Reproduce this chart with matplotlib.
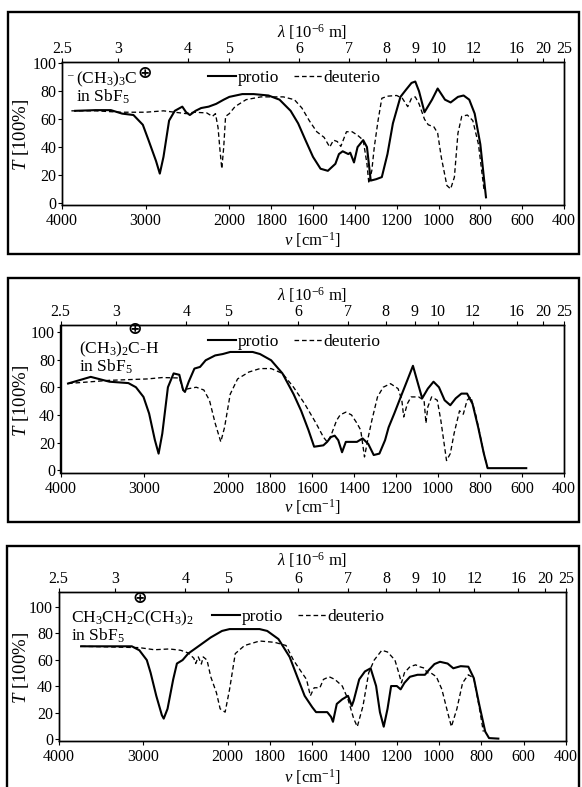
import numpy as np
import matplotlib
matplotlib.use("Agg")
import matplotlib.pyplot as plt
from matplotlib.patches import Rectangle

plt.rcParams['font.family'] = ['Liberation Serif', 'DejaVu Serif']
plt.rcParams['mathtext.fontset'] = 'custom'
plt.rcParams['mathtext.rm'] = 'Liberation Serif'
plt.rcParams['mathtext.it'] = 'Liberation Serif:italic'
plt.rcParams['mathtext.bf'] = 'Liberation Serif:bold'

# ---------------- data ----------------
bottom_ticks = [4000, 3000, 2000, 1800, 1600, 1400, 1200, 1000, 800, 600, 400]
top_ticks_um = [2.5, 3, 4, 5, 6, 7, 8, 9, 10, 12, 16, 20, 25]
top_tick_labels = ['2.5', '3', '4', '5', '6', '7', '8', '9', '10', '12', '16', '20', '25']
y_ticks = [0, 20, 40, 60, 80, 100]

p1_protio_nu = [3843, 3600, 3416, 3281, 3146, 3034, 2966, 2876, 2831, 2787, 2720, 2652, 2562, 2517, 2472, 2404,
                2337, 2247, 2157, 2067, 2000, 1938, 1884, 1813, 1760, 1707, 1671, 1636, 1600, 1564, 1529, 1493,
                1476, 1458, 1431, 1422, 1404, 1387, 1360, 1342, 1324, 1298, 1271, 1244, 1218, 1182, 1156, 1129,
                1111, 1093, 1067, 1031, 1004, 969, 942, 907, 880, 853, 827, 800, 773]
p1_protio_T = [66, 66.5, 66.5, 64, 63, 56, 45, 30, 21, 33, 59, 66, 69, 65, 63, 66,
               68, 69, 71, 74, 76, 78, 78, 77, 74, 66, 57, 45, 33, 24.5, 23, 28,
               35, 37, 35, 36, 29, 40, 45, 40, 16, 17, 18.5, 35, 57, 76, 81, 86,
               87, 80, 65, 74, 82, 74, 72, 76, 77, 74, 64, 42, 4]
p1_deut_nu = [3888, 3600, 3300, 3000, 2787, 2517, 2427, 2270, 2202, 2166, 2135, 2112, 2090, 2067, 2045, 2000,
              1973, 1920, 1849, 1742, 1689, 1653, 1618, 1582, 1547, 1520, 1502, 1484, 1467, 1440, 1413, 1387,
              1360, 1342, 1333, 1319, 1307, 1289, 1271, 1244, 1200, 1173, 1147, 1129, 1111, 1093, 1067, 1049,
              1022, 1004, 987, 960, 942, 924, 907, 889, 862, 836, 809, 782]
p1_deut_T = [66, 66, 65, 65, 66, 64, 65, 64.5, 62, 64, 54, 38, 24.5, 40, 62, 64,
             69, 74, 76, 76, 74, 68, 59, 51, 47, 40, 45, 44, 40.5, 51, 51, 48.5,
             45, 28, 14, 23, 40, 59, 75, 76.5, 77, 75, 69, 75, 76, 71, 60, 56,
             54.5, 50, 33, 12.5, 10, 18.5, 50, 62, 63, 59, 42, 9]

p2_protio_nu = [3910, 3640, 3416, 3191, 3101, 3011, 2944, 2876, 2831, 2787, 2720, 2652, 2584, 2539, 2517, 2472,
                2404, 2337, 2270, 2157, 2067, 1991, 1884, 1849, 1796, 1742, 1689, 1653, 1618, 1591, 1547, 1529,
                1511, 1493, 1476, 1458, 1440, 1413, 1387, 1360, 1333, 1307, 1280, 1253, 1236, 1209, 1173, 1147,
                1120, 1093, 1076, 1049, 1022, 996, 969, 942, 916, 889, 862, 836, 809, 782, 764, 700, 604, 580]
p2_protio_T = [62.7, 67.5, 64, 63, 60, 53, 41, 22, 12, 26.5, 60, 70, 69, 58, 56.6, 64,
               73.5, 74.7, 79.5, 83, 84, 85.5, 85.5, 84, 79.5, 70, 55, 43, 29, 17, 18, 20.5,
               24, 25, 21.7, 13, 20.5, 20.5, 20.5, 23, 19, 11, 12, 21.7, 31, 41, 55, 65,
               75.5, 61, 52, 59, 64, 60, 50.6, 47, 52, 55.4, 55.4, 48, 31, 12, 1.5, 1.5, 1.5, 1.5]
p2_deut_nu = [3910, 3416, 2966, 2787, 2584, 2539, 2472, 2382, 2292, 2225, 2157, 2090, 2045, 1991, 1956, 1902,
              1849, 1796, 1742, 1689, 1636, 1582, 1547, 1529, 1511, 1484, 1467, 1440, 1413, 1387, 1369, 1351,
              1333, 1316, 1289, 1262, 1227, 1191, 1173, 1164, 1147, 1129, 1093, 1067, 1058, 1049, 1031, 1004,
              987, 960, 942, 924, 898, 880, 862, 844, 818, 782, 764]
p2_deut_T = [62.7, 65, 66, 67, 66.7, 58, 59, 60, 58, 50.6, 34, 20.5, 31, 55, 66, 71,
             73.5, 73.5, 70, 60, 48, 34, 24, 20.5, 25, 36, 40, 42, 40, 34, 29, 9.6,
             24, 36, 53, 60, 62.6, 59, 50.6, 38.5, 48, 53, 53, 50.6, 34, 45.8, 53, 50.6,
             36, 7, 12, 26.5, 43, 40.5, 50.6, 53, 38.5, 12, 1.5]

p3_protio_nu = [3733, 3133, 3044, 2956, 2911, 2844, 2778, 2756, 2711, 2644, 2600, 2533, 2467, 2333, 2200, 2067,
                1991, 1849, 1813, 1760, 1707, 1671, 1636, 1600, 1582, 1529, 1511, 1502, 1484, 1458, 1431, 1413,
                1404, 1378, 1351, 1324, 1298, 1280, 1262, 1244, 1227, 1200, 1182, 1164, 1138, 1102, 1067, 1049,
                1022, 996, 960, 933, 898, 862, 836, 809, 782, 764, 720]
p3_protio_T = [70, 70, 67, 59.6, 50, 32.6, 18, 15.4, 22.8, 45, 57, 59.6, 64.5, 70.6, 76.7, 81.6,
               83, 83, 81.6, 75.5, 62, 47, 32.6, 24, 20.3, 20.3, 16.7, 13, 26.5, 30, 32.6, 25,
               29, 45, 51, 53.4, 40, 20.3, 9.3, 22.8, 40, 40, 37.5, 42.4, 47, 48.5, 48.5, 52,
               56.6, 58.3, 57, 53.4, 55, 54.6, 46, 25, 5.6, 0.7, 0.3]
p3_deut_nu = [3733, 3044, 2867, 2689, 2556, 2467, 2400, 2378, 2347, 2311, 2289, 2244, 2200, 2133, 2089, 2030,
              1991, 1964, 1920, 1849, 1778, 1724, 1689, 1653, 1627, 1609, 1591, 1564, 1547, 1520, 1493, 1458,
              1431, 1404, 1387, 1360, 1333, 1307, 1271, 1244, 1209, 1191, 1178, 1164, 1138, 1111, 1093, 1067,
              1058, 1040, 1013, 987, 960, 942, 916, 889, 862, 836, 809, 791]
p3_deut_T = [70, 69, 67.4, 68, 67, 65, 61, 57, 62, 56.6, 62, 59.6, 47, 35, 22.8, 20.3,
             37.5, 64.5, 70.6, 74, 73, 70.6, 59.6, 51, 45, 32.6, 38.7, 38.7, 45, 47, 45, 40,
             30, 15.4, 9.3, 25, 50, 59.6, 67, 65.7, 59.6, 50, 42.4, 50, 54.6, 56, 54.6, 53.4,
             50, 50, 47, 37.5, 20.3, 9.3, 22.8, 42.4, 48.5, 46, 22.8, 5.6]

# species label: (text before the charged C, text up to and including the charged C, full text)
panel_species = [
    (r'(CH$_3$)$_3$', r'(CH$_3$)$_3$C', r'(CH$_3$)$_3$C'),
    (r'(CH$_3$)$_2$', r'(CH$_3$)$_2$C', r'(CH$_3$)$_2$C-H'),
    (r'CH$_3$CH$_2$', r'CH$_3$CH$_2$C', r'CH$_3$CH$_2$C(CH$_3$)$_2$'),
]
solvent = r'in SbF$_5$'
legend_labels = ['protio', 'deuterio']

# ---------------- layout ----------------
W, H = 582, 787
fig = plt.figure(figsize=(W / 100, H / 100), dpi=100)


def fx(x):
    return x / W


def fy(y):
    return 1 - y / H


def fwd(v):
    v = np.asarray(v, dtype=float)
    return np.where(v <= 2000, 2.5 * v, 5000 + (v - 2000))


def inv(u):
    u = np.asarray(u, dtype=float)
    return np.where(u <= 5000, u / 2.5, 2000 + (u - 5000))


panels = [
    dict(ax=(62, 62, 564, 205), ylim=(-1.5, 101), box=(8, 12, 579, 254),
         protio=(p1_protio_nu, p1_protio_T), deut=(p1_deut_nu, p1_deut_T),
         lab=(76, 83), leg=(208, 78), sup=True, lam=20, nu=35),
    dict(ax=(60.5, 325, 564, 473), ylim=(-2, 105), box=(8, 278, 579, 522),
         protio=(p2_protio_nu, p2_protio_T), deut=(p2_deut_nu, p2_deut_T),
         lab=(79, 353), leg=(208, 342), sup=False, lam=17, nu=34),
    dict(ax=(58.5, 592, 566, 741), ylim=(-1.5, 111), box=(7, 546, 579, 792),
         protio=(p3_protio_nu, p3_protio_T), deut=(p3_deut_nu, p3_deut_T),
         lab=(71, 622), leg=(212, 617), sup=False, lam=14, nu=36),
]

FS = 11.5
FL = 12.5
for i, p in enumerate(panels):
    l, t, r, b = p['ax']
    ax = fig.add_axes([fx(l), fy(b), fx(r - l), (b - t) / H])
    ax.set_xscale('function', functions=(fwd, inv))
    ax.set_xlim(4000, 400)
    ax.set_ylim(*p['ylim'])
    lp, = ax.plot(*p['protio'], color='black', lw=1.5, solid_joinstyle='round')
    ld, = ax.plot(*p['deut'], color='black', lw=0.95, linestyle=(0, (3.5, 2.2)))
    ax.set_xticks(bottom_ticks)
    ax.set_xticklabels([str(v) for v in bottom_ticks])
    ax.set_yticks(y_ticks)
    ax.set_yticklabels([str(v) for v in y_ticks])
    ax.tick_params(direction='out', length=3, width=0.8, labelsize=FS)
    ax.tick_params(axis='x', pad=2.5)
    ax.tick_params(axis='y', pad=1.0)
    ax.minorticks_off()
    for s in ax.spines.values():
        s.set_linewidth(1.0)

    ax2 = ax.twiny()
    ax2.set_xscale('function', functions=(fwd, inv))
    ax2.set_xlim(4000, 400)
    ax2.set_xticks([10000 / u for u in top_ticks_um])
    ax2.set_xticklabels(top_tick_labels)
    ax2.tick_params(direction='out', length=3, width=0.8, labelsize=FS, pad=0.5)
    ax2.minorticks_off()
    for s in ax2.spines.values():
        s.set_linewidth(1.0)

    # outer frame
    bl, bt, br, bb = p['box']
    fig.add_artist(Rectangle((fx(bl), fy(bb)), fx(br - bl), (bb - bt) / H,
                             transform=fig.transFigure, fill=False, lw=1.7, ec='black'))

    # axis titles
    fig.text(fx(312), fy(bt + p['lam']), r'$\lambda$ [10$^{-6}$ m]', ha='center', va='center', fontsize=12)
    fig.text(fx(312), fy(b + p['nu']), r'$v$ [cm$^{-1}$]', ha='center', va='center', fontsize=12)
    fig.text(fx(21), fy((t + b) / 2 + 2), r'$T$ [100%]', ha='center', va='center',
             rotation=90, fontsize=13.5)

    # legend
    gx, gy = p['leg']
    ax.legend([lp, ld], legend_labels, ncol=2, frameon=False, fontsize=FL,
              loc='center left', bbox_to_anchor=(fx(gx), fy(gy)), bbox_transform=fig.transFigure,
              handlelength=1.6, handletextpad=0.12, columnspacing=0.85, borderpad=0, borderaxespad=0)

    # species label and solvent
    lx, ly = p['lab']
    fig.text(fx(lx), fy(ly), panel_species[i][2], ha='left', va='baseline', fontsize=FL)
    fig.text(fx(lx), fy(ly + 19), solvent, ha='left', va='baseline', fontsize=FL)

# place the circled plus at the charged carbon, measured from the rendered text
fig.canvas.draw()
renderer = fig.canvas.get_renderer()
for i, p in enumerate(panels):
    lx, ly = p['lab']
    t_pre = fig.text(fx(lx), fy(ly), panel_species[i][0], ha='left', va='baseline', fontsize=FL)
    t_c = fig.text(fx(lx), fy(ly), panel_species[i][1], ha='left', va='baseline', fontsize=FL)
    e_pre = t_pre.get_window_extent(renderer)
    e_c = t_c.get_window_extent(renderer)
    t_pre.remove()
    t_c.remove()
    if p['sup']:
        xpix = e_c.x1 + 7
        ypix = H - ly + 9.5
    else:
        xpix = (e_pre.x1 + e_c.x1) / 2.0 + 0.5
        ypix = H - ly + 24
    fig.text(xpix / W, ypix / H, '\u2295', ha='center', va='center', fontsize=12.5,
             family=['DejaVu Sans'], fontweight='bold')

# small mark before the first label (as in the original)
fig.text(fx(70), fy(76), '\u2013', ha='center', va='center', fontsize=8)

fig.savefig('out.png', dpi=100)
